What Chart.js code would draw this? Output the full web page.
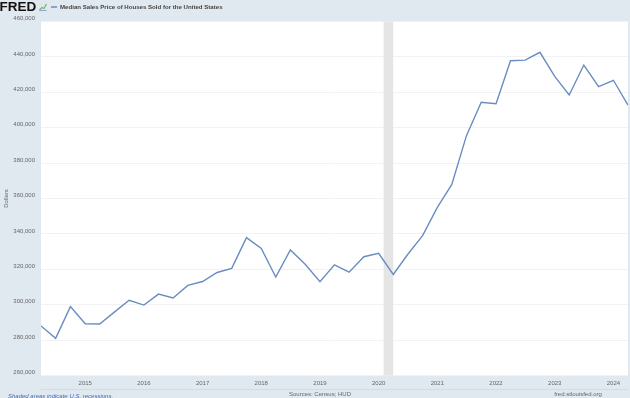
<!DOCTYPE html>
<html>
<head>
<meta charset="utf-8">
<script src="https://cdn.jsdelivr.net/npm/chart.js@4"></script>
<style>
  html, body { margin: 0; padding: 0; background: #e1e9f0; }
  #wrap { width: 630px; height: 398px; position: relative; }
</style>
</head>
<body>
<div id="wrap"><canvas id="chart" width="630" height="398"></canvas></div>
<script>
// 四半期ごとの日付（各四半期の初日）
const quarters = [
  "2014-04-01", "2014-07-01", "2014-10-01",
  "2015-01-01", "2015-04-01", "2015-07-01", "2015-10-01",
  "2016-01-01", "2016-04-01", "2016-07-01", "2016-10-01",
  "2017-01-01", "2017-04-01", "2017-07-01", "2017-10-01",
  "2018-01-01", "2018-04-01", "2018-07-01", "2018-10-01",
  "2019-01-01", "2019-04-01", "2019-07-01", "2019-10-01",
  "2020-01-01", "2020-04-01", "2020-07-01", "2020-10-01",
  "2021-01-01", "2021-04-01", "2021-07-01", "2021-10-01",
  "2022-01-01", "2022-04-01", "2022-07-01", "2022-10-01",
  "2023-01-01", "2023-04-01", "2023-07-01", "2023-10-01",
  "2024-01-01", "2024-04-01"
];

// 住宅販売価格の中央値（ドル）
const prices = [
  288000, 281000, 298900,
  289200, 289100, 295800, 302500,
  299800, 306000, 303800, 310900,
  313100, 318200, 320500, 337900,
  331800, 315600, 330900, 322800,
  313000, 322500, 318400, 327100,
  329000, 317100, 328500, 339000,
  355000, 368000, 395500, 414400,
  413500, 437800, 438200, 442600,
  429000, 418500, 435400, 423200,
  426800, 412800
];

// 軸の目盛り
const yearTicks = [2015, 2016, 2017, 2018, 2019, 2020, 2021, 2022, 2023, 2024];
const yMin = 260000;
const yMax = 460000;
const yStep = 20000;

// 景気後退期（網掛け）
const recessionStart = "2020-02-01";
const recessionEnd = "2020-04-01";

const seriesTitle = "Median Sales Price of Houses Sold for the United States";
const lineColor = "#6a8dc0";
const fontFamily = "'Liberation Sans', Arial, sans-serif";

// 日付を小数の年に変換
function toYear(dateStr) {
  const d = new Date(dateStr + "T00:00:00Z");
  const y = d.getUTCFullYear();
  const start = Date.UTC(y, 0, 1);
  const end = Date.UTC(y + 1, 0, 1);
  return y + (d.getTime() - start) / (end - start);
}

const points = quarters.map((q, i) => ({ x: toYear(q), y: prices[i] }));

// 背景・網掛け・ヘッダー・フッターを描くプラグイン
const fredDecor = {
  id: "fredDecor",
  beforeDraw(chart) {
    const { ctx, chartArea, width, height } = chart;
    ctx.save();
    ctx.fillStyle = "#e1e9f0";
    ctx.fillRect(0, 0, width, height);
    ctx.fillStyle = "#ffffff";
    ctx.fillRect(chartArea.left, chartArea.top, chartArea.right - chartArea.left, chartArea.bottom - chartArea.top);
    ctx.restore();
  },
  beforeDatasetsDraw(chart) {
    const { ctx, chartArea, scales } = chart;
    const x1 = scales.x.getPixelForValue(toYear(recessionStart));
    const x2 = scales.x.getPixelForValue(toYear(recessionEnd));
    ctx.save();
    ctx.fillStyle = "#e5e5e5";
    ctx.fillRect(x1, chartArea.top, x2 - x1, chartArea.bottom - chartArea.top);
    ctx.restore();
  },
  afterDraw(chart) {
    const { ctx, chartArea } = chart;
    ctx.save();

    // FRED ロゴ
    ctx.fillStyle = "#111";
    ctx.font = "900 13.5px " + fontFamily;
    ctx.textBaseline = "middle";
    ctx.textAlign = "left";
    ctx.fillText("FRED", -0.5, 7);

    // 小さなグラフアイコン
    ctx.fillStyle = "#dfe7ee";
    ctx.fillRect(39, 3, 8, 8);
    ctx.strokeStyle = "#7fb069";
    ctx.lineWidth = 1.2;
    ctx.beginPath();
    ctx.moveTo(39.5, 10);
    ctx.lineTo(42, 7.5);
    ctx.lineTo(44, 8.5);
    ctx.lineTo(46.5, 4);
    ctx.stroke();
    ctx.strokeStyle = "#6d9bc9";
    ctx.lineWidth = 0.8;
    ctx.beginPath();
    ctx.moveTo(39.5, 10.5);
    ctx.lineTo(46.5, 10.5);
    ctx.stroke();

    // 凡例
    ctx.strokeStyle = lineColor;
    ctx.lineWidth = 1.5;
    ctx.beginPath();
    ctx.moveTo(51, 7);
    ctx.lineTo(57, 7);
    ctx.stroke();
    ctx.fillStyle = "#444";
    ctx.font = "bold 6.1px " + fontFamily;
    ctx.fillText(seriesTitle, 60, 7.5);

    // 下部の区切り線
    ctx.strokeStyle = "#d3dbe3";
    ctx.lineWidth = 1;
    ctx.beginPath();
    ctx.moveTo(chartArea.left, 389.5);
    ctx.lineTo(chartArea.right, 389.5);
    ctx.stroke();

    // フッター
    ctx.font = "italic 6px " + fontFamily;
    ctx.fillStyle = "#4a6ea8";
    ctx.textAlign = "left";
    ctx.fillText("Shaded areas indicate U.S. recessions.", 8, 396);
    ctx.font = "6px " + fontFamily;
    ctx.fillStyle = "#666";
    ctx.textAlign = "center";
    ctx.fillText("Sources: Census; HUD", 320, 394);
    ctx.fillText("fred.stlouisfed.org", 578, 394);
    ctx.restore();
  }
};

new Chart(document.getElementById("chart"), {
  type: "line",
  data: {
    datasets: [{
      label: seriesTitle,
      data: points,
      borderColor: lineColor,
      borderWidth: 1.4,
      pointRadius: 0,
      tension: 0,
      fill: false
    }]
  },
  options: {
    responsive: false,
    animation: false,
    devicePixelRatio: 1,
    layout: { padding: { top: 21.5, right: 2, left: 0, bottom: 0 } },
    plugins: {
      legend: { display: false },
      tooltip: { enabled: false }
    },
    scales: {
      x: {
        type: "linear",
        min: toYear(quarters[0]),
        max: toYear(quarters[quarters.length - 1]),
        afterBuildTicks(scale) {
          scale.ticks = yearTicks.map(v => ({ value: v }));
        },
        afterFit(scale) {
          scale.height = 22.5;
        },
        grid: { display: false, drawTicks: false },
        border: { display: false },
        ticks: {
          autoSkip: false,
          maxRotation: 0,
          padding: 4,
          color: "#666",
          font: { family: fontFamily, size: 6 },
          callback: v => String(v)
        }
      },
      y: {
        min: yMin,
        max: yMax,
        afterFit(scale) {
          scale.width = 41;
        },
        grid: { color: "#f2f2f2", lineWidth: 1, drawTicks: false },
        border: { display: false },
        ticks: {
          stepSize: yStep,
          padding: 6,
          labelOffset: -3,
          color: "#666",
          font: { family: fontFamily, size: 6 },
          callback: v => v.toLocaleString("en-US")
        },
        title: {
          display: true,
          text: "Dollars",
          color: "#666",
          font: { family: fontFamily, size: 6 },
          padding: { top: 3, bottom: 0 }
        }
      }
    }
  },
  plugins: [fredDecor]
});
</script>
</body>
</html>
